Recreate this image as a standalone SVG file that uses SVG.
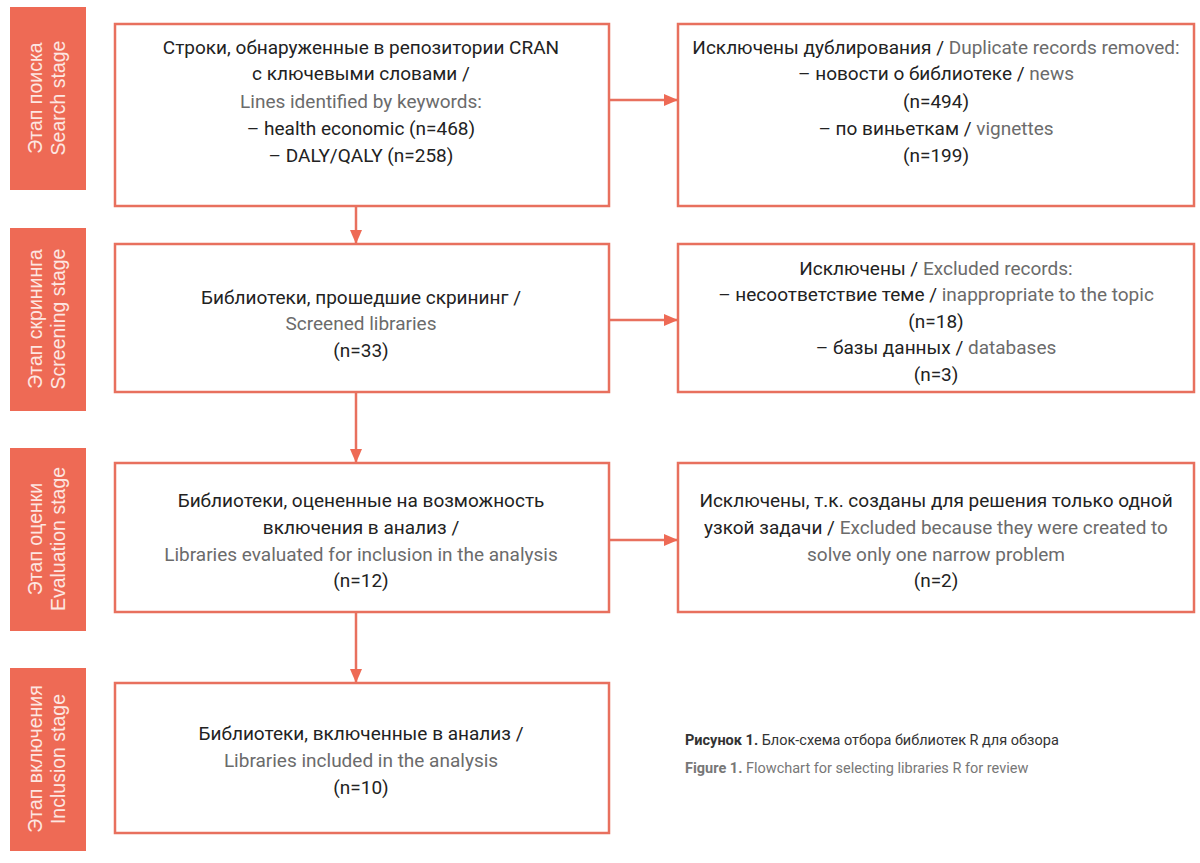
<svg xmlns="http://www.w3.org/2000/svg" width="1200" height="863" viewBox="0 0 1200 863">
<style>
.stage{fill:#EE6A55}
.stxt{fill:#FDE6E1;font-family:"Liberation Sans","Arial",sans-serif;font-size:19.5px;text-anchor:middle}
.box{fill:#ffffff;stroke:#E8705E;stroke-width:2.5}
.t{font-family:"Roboto","Liberation Sans",sans-serif;font-size:19px;text-anchor:middle;fill:#222222}
.g{fill:#6b6b6b}
.conn{stroke:#E8705E;stroke-width:2.5;fill:none}
.cap{font-family:"Roboto","Liberation Sans",sans-serif;font-size:14.5px}
</style>
<defs>
<marker id="ah" markerWidth="14" markerHeight="12" refX="14" refY="6" orient="auto" markerUnits="userSpaceOnUse">
<path d="M0,0 L14,6 L0,12 z" fill="#EE6A55"/>
</marker>
</defs>
<rect width="1200" height="863" fill="#ffffff"/>

<g id="stage-search">
<rect class="stage" x="10" y="7" width="76" height="183"/>
<text class="stxt" transform="translate(42,98) rotate(-90)">Этап поиска</text>
<text class="stxt" transform="translate(65,98) rotate(-90)">Search stage</text>
</g>
<g id="stage-screening">
<rect class="stage" x="10" y="228" width="76" height="183"/>
<text class="stxt" transform="translate(42,319) rotate(-90)">Этап скрининга</text>
<text class="stxt" transform="translate(65,319) rotate(-90)">Screening stage</text>
</g>
<g id="stage-evaluation">
<rect class="stage" x="10" y="448" width="76" height="183"/>
<text class="stxt" transform="translate(42,539) rotate(-90)">Этап оценки</text>
<text class="stxt" transform="translate(65,539) rotate(-90)">Evaluation stage</text>
</g>
<g id="stage-inclusion">
<rect class="stage" x="10" y="668" width="76" height="183"/>
<text class="stxt" transform="translate(42,759) rotate(-90)">Этап включения</text>
<text class="stxt" transform="translate(65,759) rotate(-90)">Inclusion stage</text>
</g>

<g id="connectors">
<line class="conn" x1="609" y1="100" x2="678" y2="100" marker-end="url(#ah)"/>
<line class="conn" x1="356" y1="206" x2="356" y2="244" marker-end="url(#ah)"/>
<line class="conn" x1="609" y1="320" x2="678" y2="320" marker-end="url(#ah)"/>
<line class="conn" x1="356" y1="392" x2="356" y2="463" marker-end="url(#ah)"/>
<line class="conn" x1="609" y1="540" x2="678" y2="540" marker-end="url(#ah)"/>
<line class="conn" x1="356" y1="612" x2="356" y2="683" marker-end="url(#ah)"/>
</g>

<g id="box-identified">
<rect class="box" x="115" y="24" width="494" height="182"/>
<text class="t" x="361" y="54">Строки, обнаруженные в репозитории CRAN</text>
<text class="t" x="361" y="80">с ключевыми словами /</text>
<text class="t g" x="361" y="108">Lines identified by keywords:</text>
<text class="t" x="361" y="135">– health economic (n=468)</text>
<text class="t" x="361" y="162">– DALY/QALY (n=258)</text>
</g>
<g id="box-duplicates">
<rect class="box" x="678" y="24" width="516" height="182"/>
<text class="t" x="936" y="54">Исключены дублирования / <tspan class="g">Duplicate records removed:</tspan></text>
<text class="t" x="936" y="80">– новости о библиотеке / <tspan class="g">news</tspan></text>
<text class="t" x="936" y="108">(n=494)</text>
<text class="t" x="936" y="135">– по виньеткам / <tspan class="g">vignettes</tspan></text>
<text class="t" x="936" y="162">(n=199)</text>
</g>
<g id="box-screened">
<rect class="box" x="115" y="244" width="494" height="148"/>
<text class="t" x="361" y="304">Библиотеки, прошедшие скрининг /</text>
<text class="t g" x="361" y="330">Screened libraries</text>
<text class="t" x="361" y="357">(n=33)</text>
</g>
<g id="box-excluded">
<rect class="box" x="678" y="244" width="516" height="148"/>
<text class="t" x="936" y="275">Исключены / <tspan class="g">Excluded records:</tspan></text>
<text class="t" x="936" y="301">– несоответствие теме / <tspan class="g">inappropriate to the topic</tspan></text>
<text class="t" x="936" y="328">(n=18)</text>
<text class="t" x="936" y="354">– базы данных / <tspan class="g">databases</tspan></text>
<text class="t" x="936" y="381">(n=3)</text>
</g>
<g id="box-evaluated">
<rect class="box" x="115" y="463" width="494" height="149"/>
<text class="t" x="361" y="507">Библиотеки, оцененные на возможность</text>
<text class="t" x="361" y="534">включения в анализ /</text>
<text class="t g" x="361" y="561">Libraries evaluated for inclusion in the analysis</text>
<text class="t" x="361" y="587">(n=12)</text>
</g>
<g id="box-narrow">
<rect class="box" x="678" y="463" width="516" height="149"/>
<text class="t" x="936" y="507">Исключены, т.к. созданы для решения только одной</text>
<text class="t" x="936" y="534">узкой задачи / <tspan class="g">Excluded because they were created to</tspan></text>
<text class="t g" x="936" y="561">solve only one narrow problem</text>
<text class="t" x="936" y="587">(n=2)</text>
</g>
<g id="box-included">
<rect class="box" x="115" y="683" width="494" height="150"/>
<text class="t" x="361" y="740">Библиотеки, включенные в анализ /</text>
<text class="t g" x="361" y="767">Libraries included in the analysis</text>
<text class="t" x="361" y="794">(n=10)</text>
</g>

<g id="caption">
<text class="cap" x="685" y="745" fill="#333333"><tspan font-weight="bold">Рисунок 1.</tspan> Блок-схема отбора библиотек R для обзора</text>
<text class="cap" x="685" y="773" fill="#777777"><tspan font-weight="bold">Figure 1.</tspan> Flowchart for selecting libraries R for review</text>
</g>
</svg>
